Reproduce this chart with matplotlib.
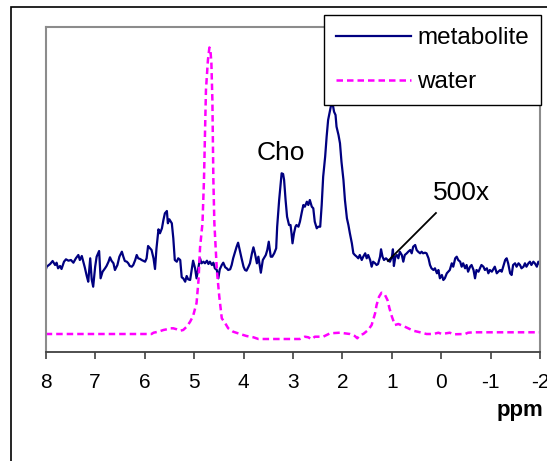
import matplotlib
matplotlib.use("Agg")
import matplotlib.pyplot as plt
from matplotlib.patches import Rectangle

plt.rcParams['font.family'] = ['Liberation Sans', 'DejaVu Sans']

# ---- data ----
met_ppm = [8.00, 7.98, 7.91, 7.86, 7.81, 7.78, 7.75, 7.71, 7.68, 7.63, 7.59, 7.54, 7.49, 7.44, 7.39,
           7.34, 7.31, 7.27, 7.24, 7.21, 7.17, 7.14, 7.10, 7.07, 7.04, 7.00, 6.97, 6.92, 6.89, 6.85,
           6.80, 6.77, 6.73, 6.70, 6.67, 6.63, 6.60, 6.55, 6.51, 6.46, 6.43, 6.40, 6.36, 6.33, 6.30,
           6.26, 6.23, 6.19, 6.16, 6.13, 6.09, 6.06, 6.03, 5.99, 5.96, 5.93,
           5.86, 5.82, 5.79, 5.76, 5.72, 5.69, 5.65, 5.62, 5.59, 5.55, 5.53, 5.50, 5.45, 5.42, 5.39,
           5.35, 5.32, 5.28, 5.25, 5.22, 5.18, 5.15, 5.12, 5.08, 5.05, 5.02, 4.98, 4.95, 4.91, 4.88,
           4.85, 4.81, 4.78, 4.74, 4.71, 4.68, 4.64, 4.61, 4.58, 4.54, 4.51, 4.48, 4.44, 4.41, 4.37,
           4.34, 4.31, 4.27, 4.24, 4.21, 4.17, 4.14, 4.11, 4.07, 4.04, 4.00, 3.97, 3.94, 3.90,
           3.87, 3.83, 3.80, 3.77, 3.73, 3.70, 3.67, 3.65, 3.61, 3.59, 3.55, 3.52, 3.49, 3.45, 3.42,
           3.38, 3.34, 3.32, 3.28, 3.25, 3.23, 3.20, 3.18, 3.15, 3.12, 3.08, 3.05, 3.03, 3.01, 2.98,
           2.95, 2.93, 2.89, 2.86, 2.82, 2.79, 2.76, 2.72, 2.69, 2.66, 2.62, 2.59, 2.56, 2.52, 2.49,
           2.45, 2.42, 2.39, 2.35, 2.32, 2.29, 2.25, 2.22, 2.20, 2.17, 2.14, 2.12, 2.08, 2.05, 2.02,
           1.98, 1.95, 1.91, 1.88, 1.85,
           1.81, 1.78, 1.75, 1.71, 1.68, 1.65, 1.61, 1.58, 1.54, 1.51, 1.48, 1.44, 1.41, 1.38, 1.34,
           1.31, 1.28, 1.24, 1.22, 1.19, 1.16, 1.12, 1.07, 1.04, 1.00, 0.98, 0.96, 0.93, 0.90, 0.87,
           0.84, 0.80, 0.77, 0.74, 0.70, 0.67, 0.63, 0.60, 0.57, 0.53, 0.50, 0.47, 0.43, 0.40, 0.37,
           0.33, 0.30, 0.26, 0.23, 0.20, 0.16, 0.13, 0.09, 0.06, 0.03, -0.01, -0.04, -0.07, -0.11,
           -0.14, -0.17,
           -0.21, -0.24, -0.28, -0.31, -0.34, -0.38, -0.41, -0.44, -0.48, -0.51, -0.54, -0.58, -0.61,
           -0.65, -0.68, -0.71, -0.75, -0.78, -0.81, -0.85, -0.88, -0.92, -0.95, -0.98, -1.02, -1.05,
           -1.08, -1.12, -1.15, -1.19, -1.22, -1.25, -1.29, -1.32, -1.35, -1.39, -1.42, -1.45, -1.49,
           -1.52, -1.56, -1.59, -1.62, -1.66, -1.69, -1.72, -1.76, -1.79, -1.82, -1.86, -1.89, -1.93,
           -1.96, -2.00]
met_int = [81.7, 85.0, 87.7, 90.7, 86.7, 89.0, 83.4, 85.7, 82.7, 90.0, 92.4, 91.0, 91.7, 89.0, 93.4,
           96.7, 91.7, 95.7, 90.0, 84.4, 75.7, 70.0, 93.4, 72.4, 65.0, 85.0, 95.0, 100.7, 73.4, 80.0,
           83.4, 85.7, 90.0, 94.4, 91.0, 88.4, 81.7, 86.7, 95.0, 100.0, 95.0, 90.7, 90.0, 88.4, 85.7,
           85.0, 86.7, 91.7, 96.7, 93.4, 92.7, 91.7, 91.0, 90.0, 93.4, 105.7,
           101.7, 93.4, 82.7, 103.4, 122.4, 118.4, 123.4, 131.7, 138.4, 140.7, 128.4, 132.4, 128.4, 113.4, 91.7,
           90.0, 93.4, 91.7, 74.4, 73.4, 70.0, 75.7, 72.4, 71.7, 81.7, 91.0, 83.4, 73.4, 85.0, 93.4,
           88.4, 90.0, 88.4, 91.0, 87.7, 90.0, 86.7, 89.0, 83.4, 81.7, 73.4, 82.4, 86.7, 89.0, 84.4,
           83.4, 81.7, 82.4, 86.7, 93.4, 100.0, 105.0, 109.0, 100.0, 93.4, 85.0, 81.7, 81.0, 85.0,
           88.4, 98.4, 104.4, 98.4, 88.4, 95.0, 85.0, 79.0, 91.7, 93.4, 96.7, 101.7, 110.0, 95.0, 95.0,
           98.4, 103.4, 125.0, 151.7, 168.4, 178.4, 177.7, 171.7, 151.7, 135.0, 126.7, 126.7, 118.4, 108.4, 118.4,
           125.0, 126.7, 125.0, 130.0, 140.0, 146.7, 145.0, 150.0, 146.7, 151.7, 145.0, 143.4, 130.0, 123.4, 125.0,
           125.0, 146.7, 175.0, 195.0, 215.0, 231.7, 241.7, 249.0, 248.4, 240.0, 236.7, 225.0, 216.7, 208.4, 190.0,
           171.7, 151.7, 133.4, 126.7, 118.4,
           108.4, 98.4, 96.7, 95.0, 93.4, 96.7, 91.7, 95.0, 98.4, 93.4, 96.7, 91.7, 85.0, 90.0, 88.4,
           86.7, 87.7, 95.0, 102.4, 95.0, 91.7, 93.4, 91.0, 90.0, 95.0, 102.4, 85.7, 95.0, 96.7, 93.4,
           100.0, 96.7, 90.0, 96.7, 98.4, 100.0, 101.7, 98.4, 105.0, 106.7, 101.7, 100.0, 98.4, 100.0, 98.4,
           99.0, 98.4, 93.4, 86.7, 83.4, 81.7, 83.4, 78.4, 81.7, 73.4, 76.7, 71.7, 73.4, 78.4,
           80.0, 81.7,
           88.4, 85.0, 93.4, 95.0, 91.7, 90.0, 85.0, 88.4, 83.4, 86.7, 80.0, 85.0, 86.7,
           81.7, 73.4, 81.7, 80.0, 83.4, 86.7, 85.0, 81.7, 83.4, 78.4, 81.7, 80.0, 82.4,
           85.0, 78.4, 80.0, 81.7, 80.0, 85.0, 91.7, 93.4, 88.4, 78.4, 76.7, 86.7, 88.4,
           85.0, 88.4, 86.7, 83.4, 85.0, 88.4, 85.0, 88.4, 90.0, 86.7, 90.0, 88.4, 85.0,
           90.0, 86.7]

wat_ppm = [8.00, 7.44, 6.77, 6.09, 5.86, 5.82, 5.72, 5.62, 5.55, 5.49, 5.42, 5.35, 5.28, 5.22, 5.15,
           5.08, 5.02, 4.95, 4.91, 4.88, 4.83, 4.80, 4.78, 4.76, 4.72, 4.69, 4.67, 4.65, 4.63, 4.61,
           4.59, 4.54, 4.49, 4.44, 4.37, 4.31, 4.21, 4.07, 3.94, 3.80, 3.70, 3.53, 3.26, 2.86, 2.76,
           2.69, 2.62, 2.56, 2.39, 2.25, 2.05, 1.85, 1.75, 1.70, 1.65, 1.58, 1.48, 1.41, 1.38, 1.34,
           1.31, 1.26, 1.21, 1.14, 1.09, 1.05, 1.00, 0.94, 0.87, 0.77, 0.67, 0.57, 0.43, 0.30, 0.16,
           0.06, -0.01, -0.17, -0.24, -0.48, -0.54, -0.65, -2.00]
wat_int = [17.7, 17.7, 17.7, 17.7, 17.7, 19.0, 20.0, 21.7, 22.4, 23.4, 23.4, 22.4, 21.0, 21.7, 25.0,
           30.0, 35.7, 48.7, 71.7, 103.7, 128.7, 171.7, 216.7, 261.7, 291.7, 304.2, 301.7, 288.7, 251.7, 171.7,
           128.7, 81.7, 55.0, 33.4, 28.4, 23.4, 20.0, 17.7, 15.7, 14.4, 12.7, 12.7, 12.7, 12.7, 15.0,
           14.4, 12.4, 15.0, 15.0, 18.4, 19.0, 17.7, 15.7, 13.4, 16.7, 17.7, 21.7, 26.7, 31.7, 38.4,
           46.7, 55.0, 59.0, 56.7, 51.7, 43.4, 35.0, 26.7, 27.7, 25.7, 23.4, 21.0, 19.4, 17.7, 17.7,
           19.0, 17.7, 19.0, 17.4, 17.7, 19.0, 19.4, 19.4]

x_ticks = [8, 7, 6, 5, 4, 3, 2, 1, 0, -1, -2]
x_tick_labels = ["8", "7", "6", "5", "4", "3", "2", "1", "0", "-1", "-2"]
series_names = ["metabolite", "water"]

# annotation anchors (ppm, intensity)
cho_pos = (3.73, 191.7)
x500_pos = (0.18, 151.7)
x500_line = ([1.08, 0.11], [90.7, 138.7])

W, H = 547, 461
fig = plt.figure(figsize=(W / 100, H / 100), dpi=100)
fig.patch.set_facecolor('white')

# outer chart frame
fig.add_artist(Rectangle((11 / W, -0.2), 2.0, 1.2 - 7 / H, transform=fig.transFigure,
                         fill=False, edgecolor='black', linewidth=1.2))

ax = fig.add_axes([45.7 / W, 1 - 351.7 / H, (540.3 - 45.7) / W, (351.7 - 27) / H])
ax.set_facecolor('white')

l1, = ax.plot(met_ppm, met_int, color='#000080', linewidth=1.6, label=series_names[0])
l2, = ax.plot(wat_ppm, wat_int, color='#FF00FF', linewidth=1.8, linestyle=(0, (2.6, 1.6)),
              label=series_names[1])

ax.set_xlim(8, -2)
ax.set_ylim(0, 324.7)
ax.set_xticks(x_ticks)
ax.set_xticklabels(x_tick_labels, fontsize=15)
ax.set_yticks([])
ax.tick_params(axis='x', direction='out', length=5, width=1.2, color='#404040', pad=10)

for s in ['top', 'right', 'left']:
    ax.spines[s].set_color('#8c8c8c')
    ax.spines[s].set_linewidth(1.5)
ax.spines['bottom'].set_color('#404040')
ax.spines['bottom'].set_linewidth(1.3)

ax.text(cho_pos[0], cho_pos[1], "Cho", fontsize=19, ha='left', va='baseline')
ax.text(x500_pos[0], x500_pos[1], "500x", fontsize=19, ha='left', va='baseline')
ax.plot(x500_line[0], x500_line[1], color='black', linewidth=1.3)

fig.text(543 / W, 1 - 416 / H, "ppm", fontsize=16, fontweight='bold', ha='right', va='baseline')

leg = fig.legend(handles=[l1, l2], loc='upper right', bbox_to_anchor=(541 / W, 1 - 15 / H),
                 bbox_transform=fig.transFigure, fontsize=17.5, frameon=True, fancybox=False,
                 edgecolor='black', framealpha=1, borderaxespad=0, handlelength=3.1,
                 handletextpad=0.25, labelspacing=0.9, borderpad=0.5)
leg.get_frame().set_linewidth(1.0)

fig.savefig("out.png", dpi=100)
